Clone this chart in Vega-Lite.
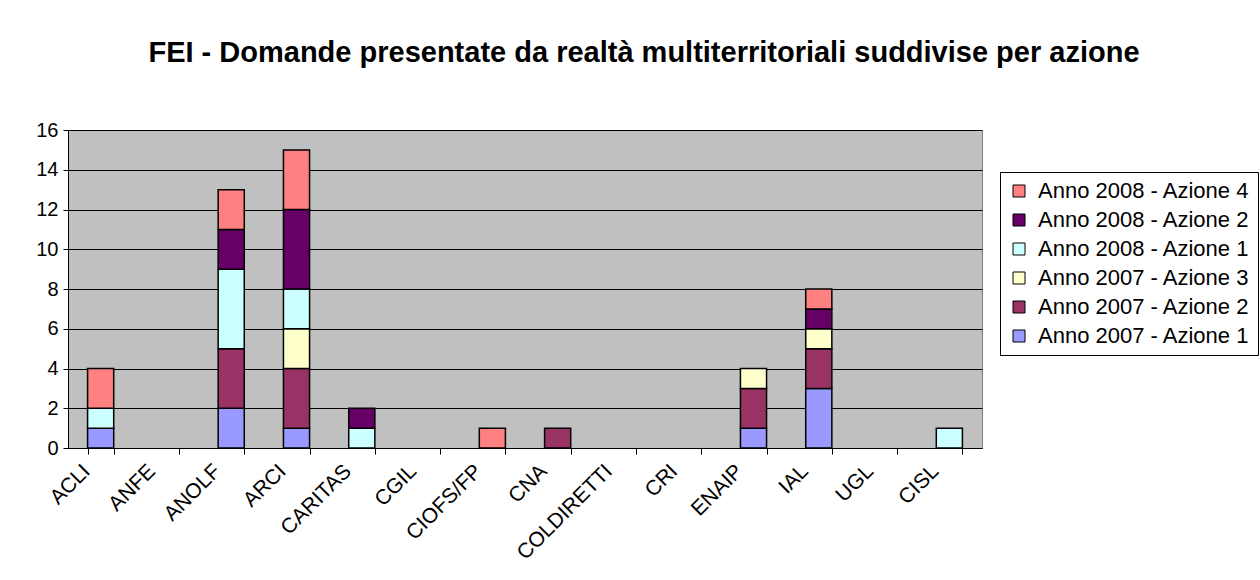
{
  "$schema": "https://vega.github.io/schema/vega-lite/v6.json",
  "width": 914,
  "height": 318,
  "autosize": "none",
  "padding": {"left": 68, "top": 130, "right": 278, "bottom": 132},
  "background": "white",
  "title": {
    "text": "FEI - Domande presentate da realtà multiterritoriali suddivise per azione",
    "font": "Liberation Sans",
    "fontSize": 29,
    "fontWeight": "bold",
    "color": "black",
    "anchor": "middle",
    "offset": 52,
    "dx": 119,
    "limit": 0
  },
  "data": {
    "values": [
      {"org": "ACLI", "serie": "Anno 2007 - Azione 1", "ord": 1, "n": 1},
      {"org": "ACLI", "serie": "Anno 2008 - Azione 1", "ord": 4, "n": 1},
      {"org": "ACLI", "serie": "Anno 2008 - Azione 4", "ord": 6, "n": 2},
      {"org": "ANOLF", "serie": "Anno 2007 - Azione 1", "ord": 1, "n": 2},
      {"org": "ANOLF", "serie": "Anno 2007 - Azione 2", "ord": 2, "n": 3},
      {"org": "ANOLF", "serie": "Anno 2008 - Azione 1", "ord": 4, "n": 4},
      {"org": "ANOLF", "serie": "Anno 2008 - Azione 2", "ord": 5, "n": 2},
      {"org": "ANOLF", "serie": "Anno 2008 - Azione 4", "ord": 6, "n": 2},
      {"org": "ARCI", "serie": "Anno 2007 - Azione 1", "ord": 1, "n": 1},
      {"org": "ARCI", "serie": "Anno 2007 - Azione 2", "ord": 2, "n": 3},
      {"org": "ARCI", "serie": "Anno 2007 - Azione 3", "ord": 3, "n": 2},
      {"org": "ARCI", "serie": "Anno 2008 - Azione 1", "ord": 4, "n": 2},
      {"org": "ARCI", "serie": "Anno 2008 - Azione 2", "ord": 5, "n": 4},
      {"org": "ARCI", "serie": "Anno 2008 - Azione 4", "ord": 6, "n": 3},
      {"org": "CARITAS", "serie": "Anno 2008 - Azione 1", "ord": 4, "n": 1},
      {"org": "CARITAS", "serie": "Anno 2008 - Azione 2", "ord": 5, "n": 1},
      {"org": "CIOFS/FP", "serie": "Anno 2008 - Azione 4", "ord": 6, "n": 1},
      {"org": "CNA", "serie": "Anno 2007 - Azione 2", "ord": 2, "n": 1},
      {"org": "ENAIP", "serie": "Anno 2007 - Azione 1", "ord": 1, "n": 1},
      {"org": "ENAIP", "serie": "Anno 2007 - Azione 2", "ord": 2, "n": 2},
      {"org": "ENAIP", "serie": "Anno 2007 - Azione 3", "ord": 3, "n": 1},
      {"org": "IAL", "serie": "Anno 2007 - Azione 1", "ord": 1, "n": 3},
      {"org": "IAL", "serie": "Anno 2007 - Azione 2", "ord": 2, "n": 2},
      {"org": "IAL", "serie": "Anno 2007 - Azione 3", "ord": 3, "n": 1},
      {"org": "IAL", "serie": "Anno 2008 - Azione 2", "ord": 5, "n": 1},
      {"org": "IAL", "serie": "Anno 2008 - Azione 4", "ord": 6, "n": 1},
      {"org": "CISL", "serie": "Anno 2008 - Azione 1", "ord": 4, "n": 1}
    ]
  },
  "mark": {"type": "bar", "stroke": "black", "strokeWidth": 1.5},
  "encoding": {
    "x": {
      "field": "org",
      "type": "nominal",
      "scale": {
        "domain": ["ACLI", "ANFE", "ANOLF", "ARCI", "CARITAS", "CGIL", "CIOFS/FP", "CNA", "COLDIRETTI", "CRI", "ENAIP", "IAL", "UGL", "CISL"],
        "paddingInner": 0.6,
        "paddingOuter": 0.3
      },
      "axis": {
        "title": null,
        "tickBand": "extent",
        "labelAngle": -45,
        "labelAlign": "right",
        "labelBaseline": "top",
        "labelFont": "Liberation Sans",
        "labelFontSize": 21,
        "labelColor": "black",
        "labelPadding": 6,
        "labelOffset": -22,
        "labelLimit": 0,
        "domainColor": "black",
        "tickColor": "black",
        "tickSize": 6,
        "grid": false
      }
    },
    "y": {
      "field": "n",
      "type": "quantitative",
      "stack": "zero",
      "scale": {"domain": [0, 16], "nice": false},
      "axis": {
        "title": null,
        "values": [0, 2, 4, 6, 8, 10, 12, 14, 16],
        "labelFont": "Liberation Sans",
        "labelFontSize": 20,
        "labelColor": "black",
        "domainColor": "black",
        "tickColor": "black",
        "tickSize": 5,
        "labelPadding": 5,
        "gridColor": "black",
        "gridOpacity": 1,
        "gridWidth": 1
      }
    },
    "color": {
      "field": "serie",
      "type": "nominal",
      "scale": {
        "domain": ["Anno 2008 - Azione 4", "Anno 2008 - Azione 2", "Anno 2008 - Azione 1", "Anno 2007 - Azione 3", "Anno 2007 - Azione 2", "Anno 2007 - Azione 1"],
        "range": ["#FF8080", "#660066", "#CCFFFF", "#FFFFCC", "#993366", "#9999FF"]
      },
      "legend": {
        "title": null,
        "orient": "none",
        "legendX": 932,
        "legendY": 42,
        "labelFont": "Liberation Sans",
        "labelFontSize": 22,
        "labelColor": "black",
        "labelLimit": 0,
        "labelOffset": 8,
        "symbolType": "square",
        "symbolSize": 144,
        "symbolStrokeColor": "black",
        "symbolStrokeWidth": 1,
        "rowPadding": 7,
        "strokeColor": "black",
        "fillColor": "white",
        "padding": 8
      }
    },
    "order": {"field": "ord", "type": "quantitative", "sort": "ascending"}
  },
  "config": {
    "view": {"fill": "#C0C0C0", "stroke": "#808080"}
  }
}
